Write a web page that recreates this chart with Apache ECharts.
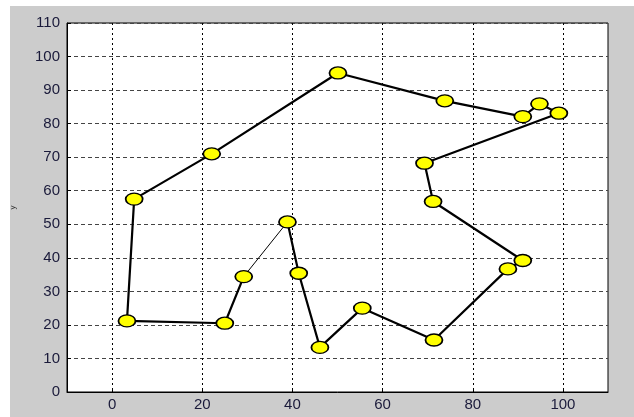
<!DOCTYPE html>
<html>
<head>
<meta charset="utf-8">
<script src="https://cdn.jsdelivr.net/npm/echarts@6/dist/echarts.min.js"></script>
<style>
  html, body { margin: 0; padding: 0; background: #ffffff; }
  #wrap { position: relative; width: 634px; height: 417px; overflow: hidden; }
  #panel { position: absolute; left: 10px; top: 6px; right: 0; bottom: 0; background: #cccccc; }
  #chart { position: absolute; left: 0; top: 0; width: 634px; height: 417px; }
</style>
</head>
<body>
<div id="wrap">
  <div id="panel"></div>
  <div id="chart"></div>
</div>
<script>
// City coordinates, listed in tour order
const tourX = [50.1, 73.8, 91.1, 94.8, 99.1, 69.3, 71.2, 91.1, 87.8, 71.4, 55.5, 46.1, 41.4, 38.9, 29.2, 25.0, 3.3, 4.9, 22.1];
const tourY = [95.1, 86.8, 82.1, 85.9, 83.1, 68.2, 56.8, 39.2, 36.7, 15.5, 25.0, 13.3, 35.4, 50.7, 34.4, 20.5, 21.2, 57.5, 71.0];

// Tick values
const xTicks = [0, 20, 40, 60, 80, 100];
const yMin = 0, yMax = 110, yStep = 10;
const xMin = -10, xMax = 110;

// One leg of the tour is drawn with a thin line; the rest is bold
const thinLeg = [13, 14];

const pts = tourX.map((x, i) => [x, tourY[i]]);
const boldPath = [];
for (let k = 0; k <= pts.length; k++) {
  const idx = (thinLeg[1] + k) % pts.length;
  boldPath.push(pts[idx]);
  if (idx === thinLeg[0]) break;
}
const thinPath = [pts[thinLeg[0]], pts[thinLeg[1]]];

const labelColor = '#1a1a3a';
const labelFont = { fontFamily: 'Liberation Sans, Arial, sans-serif', fontSize: 15, color: labelColor };

const chart = echarts.init(document.getElementById('chart'), null, { renderer: 'canvas' });
chart.setOption({
  animation: false,
  backgroundColor: 'transparent',
  grid: {
    left: 67, top: 23, right: 26, bottom: 25,
    outerBoundsMode: 'none',
    show: true,
    backgroundColor: '#ffffff',
    borderColor: '#000000',
    borderWidth: 1
  },
  xAxis: {
    type: 'value',
    min: xMin, max: xMax,
    axisLine: { show: true, onZero: false, lineStyle: { color: '#000', width: 1 } },
    axisTick: { show: true, inside: true, length: 4, customValues: xTicks, lineStyle: { color: '#000' } },
    axisLabel: { customValues: xTicks, margin: 5, ...labelFont },
    splitLine: { show: true, lineStyle: { color: '#000', type: [2, 3], width: 1 } }
  },
  yAxis: {
    type: 'value',
    min: yMin, max: yMax, interval: yStep,
    name: 'y',
    nameLocation: 'middle',
    nameGap: 50,
    nameRotate: 90,
    nameTextStyle: { fontSize: 8, color: '#333', fontFamily: 'Liberation Sans, Arial, sans-serif' },
    axisLine: { show: true, onZero: false, lineStyle: { color: '#000', width: 1 } },
    axisTick: { show: true, inside: true, length: 4, lineStyle: { color: '#000' } },
    axisLabel: { margin: 7, ...labelFont },
    splitLine: { show: true, lineStyle: { color: '#444', type: [4, 3], width: 1 } }
  },
  series: [
    {
      type: 'line',
      data: boldPath,
      showSymbol: false,
      lineStyle: { color: '#000', width: 2.2 },
      z: 2
    },
    {
      type: 'line',
      data: thinPath,
      showSymbol: false,
      lineStyle: { color: '#000', width: 1 },
      z: 2
    },
    {
      type: 'scatter',
      data: pts,
      symbol: 'circle',
      symbolSize: [17, 12],
      itemStyle: { color: '#ffff00', borderColor: '#000', borderWidth: 1.5, opacity: 1 },
      z: 3
    }
  ]
});
</script>
</body>
</html>
